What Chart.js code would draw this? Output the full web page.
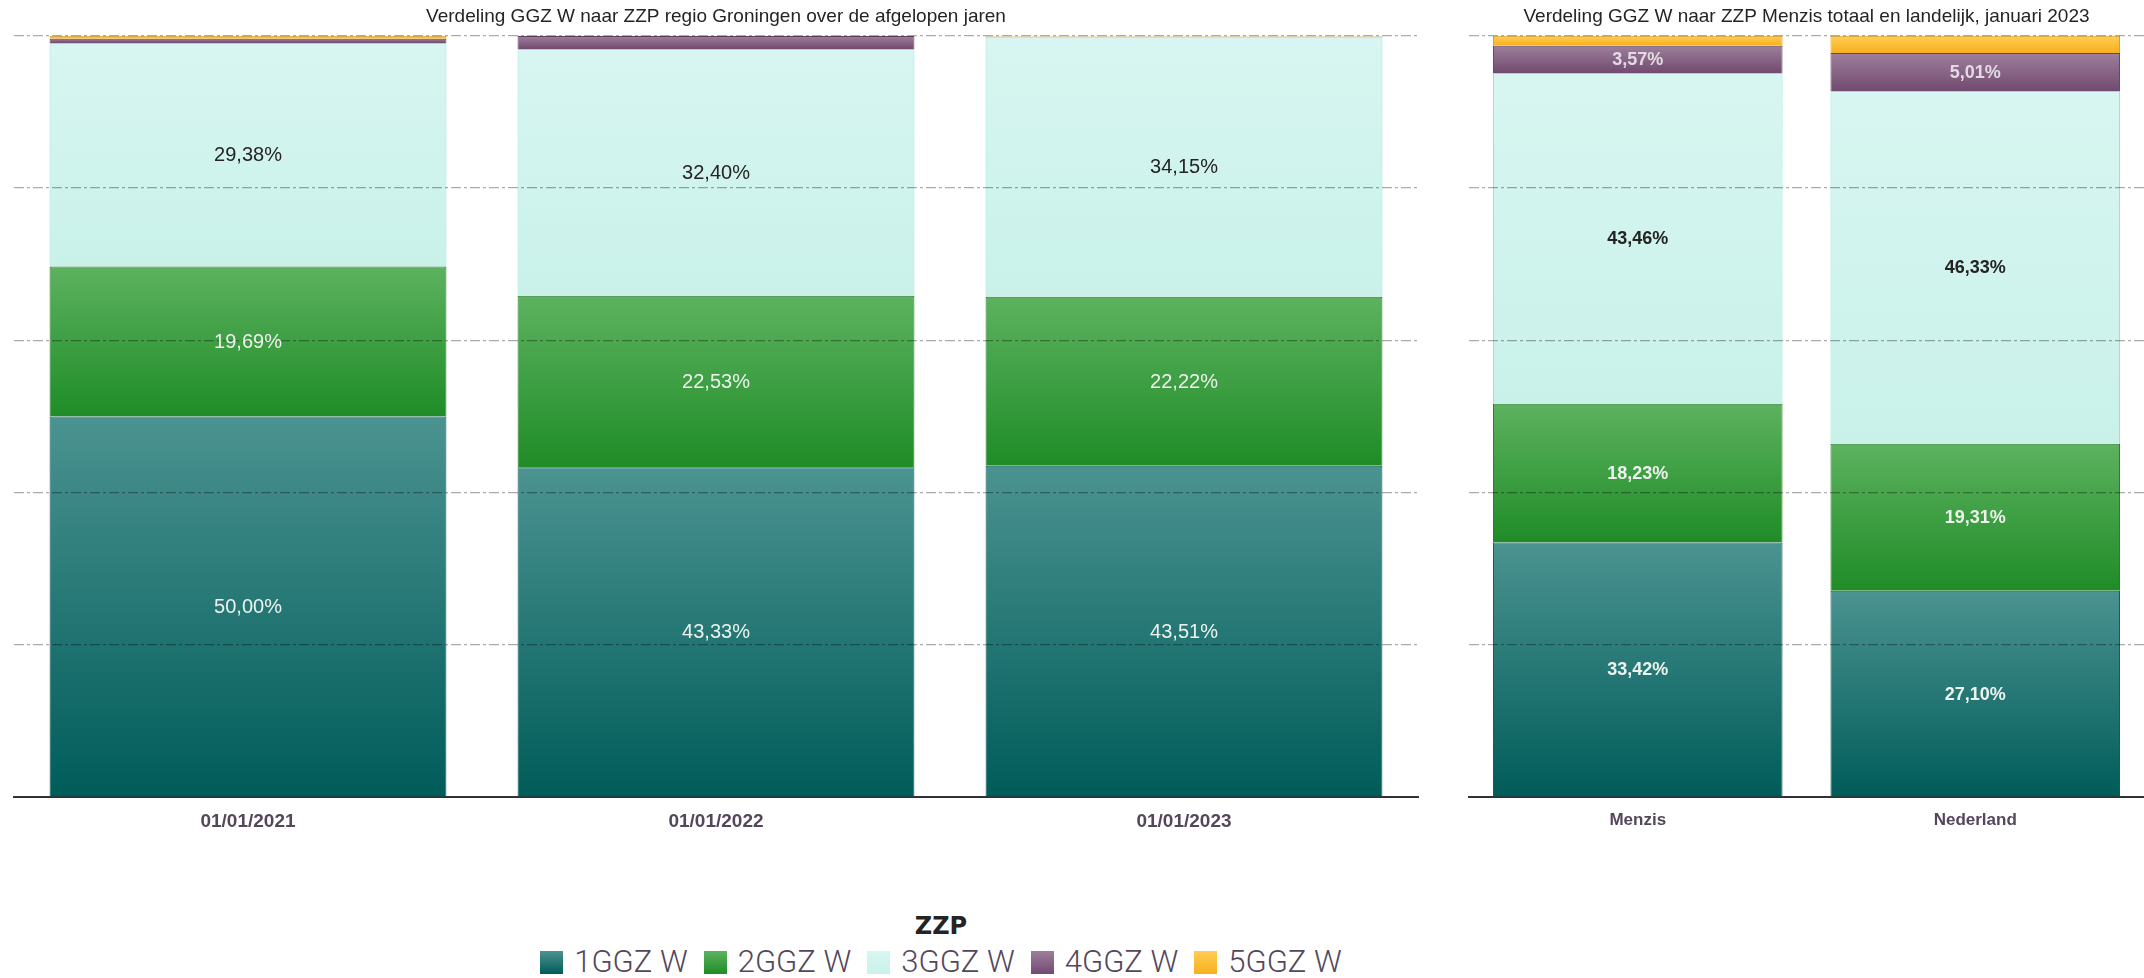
<!DOCTYPE html>
<html>
<head>
<meta charset="utf-8">
<script src="https://cdn.jsdelivr.net/npm/chart.js@4"></script>
<style>
  body { margin: 0; background: #fff; width: 2144px; height: 978px; position: relative; overflow: hidden; }
  #left { position: absolute; left: 0; top: 0; }
  #right { position: absolute; left: 1440px; top: 0; }
  #legend { position: absolute; left: 0; top: 911px; width: 1882px; text-align: center; font-family: "Roboto", "Liberation Sans", sans-serif; }
  #legend .title { font-family: "DejaVu Sans", sans-serif; font-weight: bold; font-size: 24px; color: #252423; line-height: 30px; }
  #legend .items { display: inline-flex; align-items: center; margin-top: 4px; }
  #legend .item { display: inline-flex; align-items: center; margin: 0 8px; font-size: 31px; font-weight: 300; color: #54475c; line-height: 34px; }
  #legend .box { width: 23px; height: 23px; margin-right: 11px; }
</style>
</head>
<body>
<canvas id="left" width="1440" height="840"></canvas>
<canvas id="right" width="704" height="840"></canvas>
<div id="legend"></div>
<script>
// titles
const leftTitle = 'Verdeling GGZ W naar ZZP regio Groningen over de afgelopen jaren';
const rightTitle = 'Verdeling GGZ W naar ZZP Menzis totaal en landelijk, januari 2023';
const legendTitle = 'ZZP';

// categories
const leftLabels = ['01/01/2021', '01/01/2022', '01/01/2023'];
const rightLabels = ['Menzis', 'Nederland'];
const seriesNames = ['1GGZ W', '2GGZ W', '3GGZ W', '4GGZ W', '5GGZ W'];

// regio Groningen, % per ZZP
const groningen1 = [50.00, 43.33, 43.51];
const groningen2 = [19.69, 22.53, 22.22];
const groningen3 = [29.38, 32.40, 34.15];
const groningen4 = [0.55, 1.70, 0.04];
const groningen5 = [0.38, 0.04, 0.08];

// Menzis / Nederland, % per ZZP
const landelijk1 = [33.42, 27.10];
const landelijk2 = [18.23, 19.31];
const landelijk3 = [43.46, 46.33];
const landelijk4 = [3.57, 5.01];
const landelijk5 = [1.32, 2.25];

// colours: [top of segment, bottom of segment, border]
const palette = [
  ['#4b9391', '#005c59', '#0b5653'],
  ['#5db25f', '#1f8c27', '#1d7a24'],
  ['#d8f6f1', '#c9f1ea', '#8fe2d4'],
  ['#9d7f9b', '#724a70', '#62405f'],
  ['#ffcd55', '#f7b01d', '#d99a12']
];

function segmentGradient(ctx, si) {
  const chart = ctx.chart;
  const y = chart.scales.y;
  if (!chart.chartArea || !y) return palette[si][1];
  const sets = chart.data.datasets;
  let base = 0;
  for (let i = 0; i < si; i++) base += sets[i].data[ctx.dataIndex];
  const top = y.getPixelForValue(base + sets[si].data[ctx.dataIndex]);
  const bottom = y.getPixelForValue(base);
  if (!isFinite(top) || !isFinite(bottom) || bottom - top < 1) return palette[si][1];
  const g = chart.ctx.createLinearGradient(0, top, 0, bottom);
  g.addColorStop(0, palette[si][0]);
  g.addColorStop(1, palette[si][1]);
  return g;
}

function makeSets(series) {
  return series.map((data, si) => ({
    label: seriesNames[si],
    data: data,
    backgroundColor: ctx => segmentGradient(ctx, si),
    borderColor: palette[si][2],
    borderWidth: 1
  }));
}

const valueLabels = {
  id: 'valueLabels',
  afterDraw(chart, args, opts) {
    const ctx = chart.ctx;
    ctx.save();
    ctx.font = opts.font;
    ctx.textAlign = 'center';
    ctx.textBaseline = 'middle';
    chart.data.datasets.forEach((ds, di) => {
      chart.getDatasetMeta(di).data.forEach((bar, i) => {
        const v = ds.data[i];
        if (v < 3) return;
        ctx.fillStyle = di === 2 ? opts.dark : (di === 3 ? '#e2dce2' : opts.light);
        ctx.fillText(v.toFixed(2).replace('.', ',') + '%', bar.x, (bar.y + bar.base) / 2 + 1);
      });
    });
    ctx.restore();
  }
};

function makeChart(id, labels, series, cfg) {
  return new Chart(document.getElementById(id), {
    type: 'bar',
    data: { labels: labels, datasets: makeSets(series) },
    plugins: [valueLabels],
    options: {
      responsive: false,
      animation: false,
      layout: { padding: cfg.padding },
      datasets: { bar: { categoryPercentage: cfg.catPct, barPercentage: 1 } },
      plugins: {
        legend: { display: false },
        tooltip: { enabled: false },
        title: {
          display: true,
          text: cfg.title,
          fullSize: false,
          color: '#252423',
          font: { family: 'Liberation Sans', size: 19, weight: 'normal' },
          padding: { top: 4, bottom: 8 }
        },
        valueLabels: { font: cfg.labelFont, light: '#eef2ee', dark: '#252423' }
      },
      scales: {
        x: {
          stacked: true,
          grid: { display: false },
          border: { display: true, color: '#333133', width: 2 },
          ticks: {
            color: '#54475c',
            padding: 5,
            font: { family: 'Liberation Sans', size: cfg.tickSize, weight: 'bold' }
          },
          afterFit: s => { s.height = 30; }
        },
        y: {
          stacked: true,
          min: 0,
          max: 100,
          ticks: { display: false, stepSize: 20 },
          grid: {
            z: 1,
            drawTicks: false,
            lineWidth: 1.2,
            color: c => c.tick && c.tick.value === 0 ? 'rgba(0,0,0,0)' : 'rgba(0,0,0,0.33)'
          },
          border: { display: false, dash: [10, 3, 3, 3] },
          afterFit: s => { s.width = 0; }
        }
      }
    }
  });
}

makeChart('left', leftLabels, [groningen1, groningen2, groningen3, groningen4, groningen5], {
  title: leftTitle,
  padding: { left: 14, right: 22, top: 1, bottom: 13 },
  catPct: 0.848,
  tickSize: 19,
  labelFont: '20px "Liberation Sans"'
});

makeChart('right', rightLabels, [landelijk1, landelijk2, landelijk3, landelijk4, landelijk5], {
  title: rightTitle,
  padding: { left: 29, right: 0, top: 1, bottom: 13 },
  catPct: 0.858,
  tickSize: 17,
  labelFont: 'bold 18px "Liberation Sans"'
});

// legend
const legend = document.getElementById('legend');
const t = document.createElement('div');
t.className = 'title';
t.textContent = legendTitle;
legend.appendChild(t);
const row = document.createElement('div');
row.className = 'items';
seriesNames.forEach((name, i) => {
  const item = document.createElement('span');
  item.className = 'item';
  const box = document.createElement('span');
  box.className = 'box';
  box.style.background = 'linear-gradient(' + palette[i][0] + ',' + palette[i][1] + ')';
  item.appendChild(box);
  item.appendChild(document.createTextNode(name));
  row.appendChild(item);
});
legend.appendChild(row);
</script>
</body>
</html>
